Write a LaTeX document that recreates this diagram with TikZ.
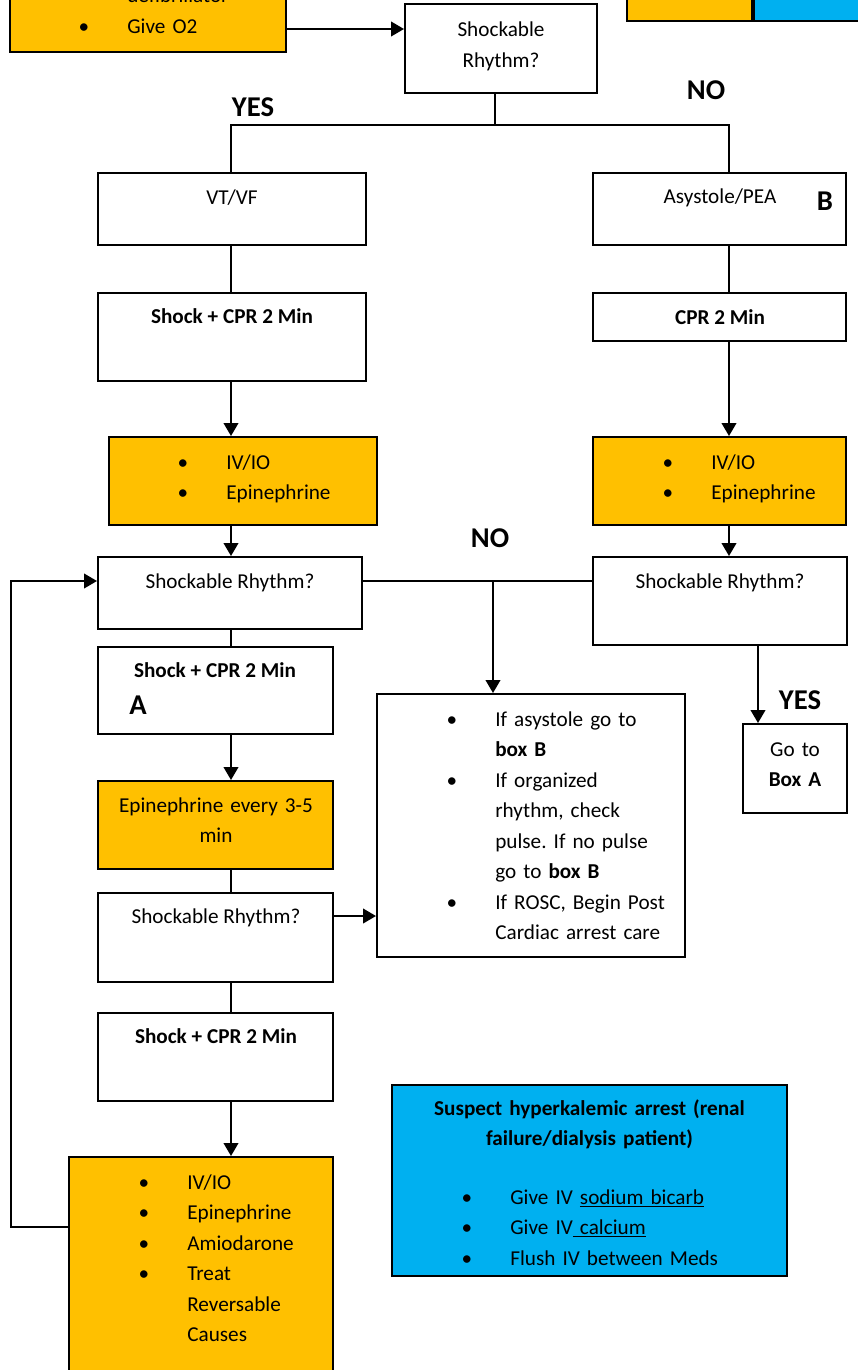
\documentclass[tikz,border=0pt]{standalone}
\usepackage{fontspec}
\setmainfont{Carlito}
\usetikzlibrary{arrows.meta}

\newcommand{\flowfont}{\fontsize{15.9}{22.9}\selectfont\frenchspacing}
\newcommand{\markfont}{\fontsize{21.5}{26}\selectfont\bfseries}
\newlength{\bgap}\setlength{\bgap}{32.5pt}
\newcommand{\bitem}[1]{\makebox[0pt]{\textbullet}\hspace*{\bgap}#1}
\newcommand{\bcont}[1]{\hspace*{\bgap}#1}

\tikzset{every picture/.style={line width=1.5pt}}
\tikzset{
  boxsize/.style 2 args={minimum width=#1*0.75pt, minimum height=#2*0.75pt},
  wbox/.style={draw, fill=white, inner sep=0pt},
  obox/.style={draw, fill={rgb, 255:red, 255; green, 192; blue, 0 }, inner sep=0pt},
  bbox/.style={draw, fill={rgb, 255:red, 0; green, 176; blue, 240 }, inner sep=0pt},
  txt/.style={inner sep=0pt, font=\flowfont},
  lbl/.style={inner sep=0pt, font=\markfont},
  arr/.style={-{Triangle[length=9.75pt,width=11pt]}}
}

\begin{document}
\begin{tikzpicture}[x=0.75pt,y=0.75pt,yscale=-1,xscale=1]
        \useasboundingbox (0,0) rectangle (857,1370);

        %Shape: Rectangle (cut at top)
        \node [obox, boxsize={276}{112}] (start) at (148,-4) {};
        %Shape: Legend swatches
        \node [obox, boxsize={125}{61}] (lorange) at (689.5,-9.5) {};
        \node [bbox, boxsize={146}{61}] (lblue) at (827,-9.5) {};
        %Shape: Rectangle
        \node [wbox, boxsize={192}{89}] (q1) at (501,48.5) {};

        % left column
        \node [wbox, boxsize={268}{72}] (vtvf) at (232,209) {};
        \node [wbox, boxsize={268}{88}] (shock1) at (232,337) {};
        \node [obox, boxsize={268}{88}] (ivio1) at (243,481) {};
        \node [wbox, boxsize={264}{72}] (q2) at (230,593) {};
        \node [wbox, boxsize={235}{87}] (shockA) at (215.5,690.5) {};
        \node [obox, boxsize={235}{88}] (epi) at (215.5,825) {};
        \node [wbox, boxsize={235}{89}] (q4) at (215.5,937.5) {};
        \node [wbox, boxsize={235}{88}] (shock3) at (215.5,1057) {};
        \node [obox, boxsize={264}{243}] (ivio3) at (201,1278.5) {};

        % right column
        \node [wbox, boxsize={253}{72}] (asys) at (719.5,209) {};
        \node [wbox, boxsize={253}{48}] (cpr) at (719.5,317) {};
        \node [obox, boxsize={253}{88}] (ivio2) at (719.5,481) {};
        \node [wbox, boxsize={254}{88}] (q3) at (720,601) {};
        \node [wbox, boxsize={104}{89}] (goA) at (795,768.5) {};

        % middle
        \node [wbox, boxsize={308}{263}] (mid) at (531,825.5) {};
        \node [bbox, boxsize={395}{191}] (hyper) at (589.5,1180.5) {};

        % helper points
        \coordinate (inrow) at (0,29);
        \coordinate (split1) at (495,125);
        \coordinate (lcol) at (231,0);
        \coordinate (rcol) at (729,0);
        \coordinate (nojoin) at (493,581);
        \coordinate (loopbot) at (11,1227);
        \coordinate (looptop) at (11,581);
        \coordinate (q4out) at (0,916);
        \coordinate (yescol) at (758,0);

        %Straight Lines
        \draw [arr] (start.east |- inrow) -- (q1.west |- inrow);
        \draw (q1.south -| split1) -- (split1);
        \draw (vtvf.north -| lcol) |- (split1) -| (asys.north -| rcol);
        \draw (vtvf.south -| lcol) -- (shock1.north -| lcol);
        \draw [arr] (shock1.south -| lcol) -- (ivio1.north -| lcol);
        \draw [arr] (ivio1.south -| lcol) -- (q2.north -| lcol);
        \draw (q2.south -| lcol) -- (shockA.north -| lcol);
        \draw [arr] (shockA.south -| lcol) -- (epi.north -| lcol);
        \draw (epi.south -| lcol) -- (q4.north -| lcol);
        \draw (q4.south -| lcol) -- (shock3.north -| lcol);
        \draw [arr] (shock3.south -| lcol) -- (ivio3.north -| lcol);
        \draw [arr] (ivio3.west |- loopbot) -- (loopbot) -- (looptop) -- (q2.west |- looptop);
        \draw (q2.east |- nojoin) -- (q3.west |- nojoin);
        \draw [arr] (nojoin) -- (mid.north -| nojoin);
        \draw [arr] (q4.east |- q4out) -- (mid.west |- q4out);
        \draw (asys.south -| rcol) -- (cpr.north -| rcol);
        \draw [arr] (cpr.south -| rcol) -- (ivio2.north -| rcol);
        \draw [arr] (ivio2.south -| rcol) -- (q3.north -| rcol);
        \draw [arr] (q3.south -| yescol) -- (goA.north -| yescol);

        % Text Node
        \node [txt, text width=250pt, align=left, anchor=base west] (startT) at (83,3) {\bcont{defibrillator}\\\bitem{Give O2}};
        % Text Node
        \node [txt, text width=140pt, align=center, anchor=base] (q1T) at (501,37) {Shockable\\Rhythm?};
        % Text Node
        \node [lbl, anchor=base] (yes1) at (253,117) {YES};
        % Text Node
        \node [lbl, anchor=base] (no1) at (706,99) {NO};
        % Text Node
        \node [txt, anchor=base] (vtvfT) at (232,204) {VT/VF};
        % Text Node
        \node [txt, anchor=base] (shock1T) at (232,323) {\textbf{Shock + CPR 2 Min}};
        % Text Node
        \node [txt, text width=200pt, align=left, anchor=base west] (ivio1T) at (182,469) {\bitem{IV/IO}\\\bitem{Epinephrine}};
        % Text Node
        \node [txt, anchor=base] (q2T) at (230,588) {Shockable Rhythm?};
        % Text Node
        \node [lbl, anchor=base] (no2) at (490,547) {NO};
        % Text Node
        \node [txt, anchor=base] (shockAT) at (215,677) {\textbf{Shock + CPR 2 Min}};
        % Text Node
        \node [lbl, anchor=base] (markA) at (138,714) {A};
        % Text Node
        \node [txt, text width=200pt, align=center, anchor=base] (epiT) at (216,812) {Epinephrine every 3-5\\min};
        % Text Node
        \node [txt, anchor=base] (q4T) at (216,923) {Shockable Rhythm?};
        % Text Node
        \node [txt, anchor=base] (shock3T) at (216,1043) {\textbf{Shock + CPR 2 Min}};
        % Text Node
        \node [txt, text width=200pt, align=left, anchor=base west] (ivio3T) at (143,1189) {\bitem{IV/IO}\\\bitem{Epinephrine}\\\bitem{Amiodarone}\\\bitem{Treat}\\\bcont{Reversable}\\\bcont{Causes}};
        % Text Node
        \node [txt, anchor=base] (asysT) at (720,203) {Asystole/PEA};
        % Text Node
        \node [lbl, anchor=base] (markB) at (825,210) {B};
        % Text Node
        \node [txt, anchor=base] (cprT) at (720,324) {\textbf{CPR 2 Min}};
        % Text Node
        \node [txt, text width=200pt, align=left, anchor=base west] (ivio2T) at (667,469) {\bitem{IV/IO}\\\bitem{Epinephrine}};
        % Text Node
        \node [txt, anchor=base] (q3T) at (720,588) {Shockable Rhythm?};
        % Text Node
        \node [lbl, anchor=base] (yes2) at (800,709) {YES};
        % Text Node
        \node [txt, text width=70pt, align=center, anchor=base] (goAT) at (795,756) {Go to\\\textbf{Box A}};
        % Text Node
        \node [txt, text width=250pt, align=left, anchor=base west] (midT) at (451,726) {\bitem{If asystole go to}\\\bcont{\textbf{box B}}\\\bitem{If organized}\\\bcont{rhythm, check}\\\bcont{pulse. If no pulse}\\\bcont{go to \textbf{box B}}\\\bitem{If ROSC, Begin Post}\\\bcont{Cardiac arrest care}};
        % Text Node
        \node [txt, font=\flowfont\bfseries, text width=320pt, align=center, anchor=base] (hyperT) at (589.5,1115) {Suspect hyperkalemic arrest (renal\\failure/dialysis patient)};
        % Text Node
        \node [txt, text width=260pt, align=left, anchor=base west] (hyperL) at (466,1204) {\bitem{Give IV \underline{sodium bicarb}}\\\bitem{Give IV\underline{ calcium}}\\\bitem{Flush IV between Meds}};

    \end{tikzpicture}
\end{document}
